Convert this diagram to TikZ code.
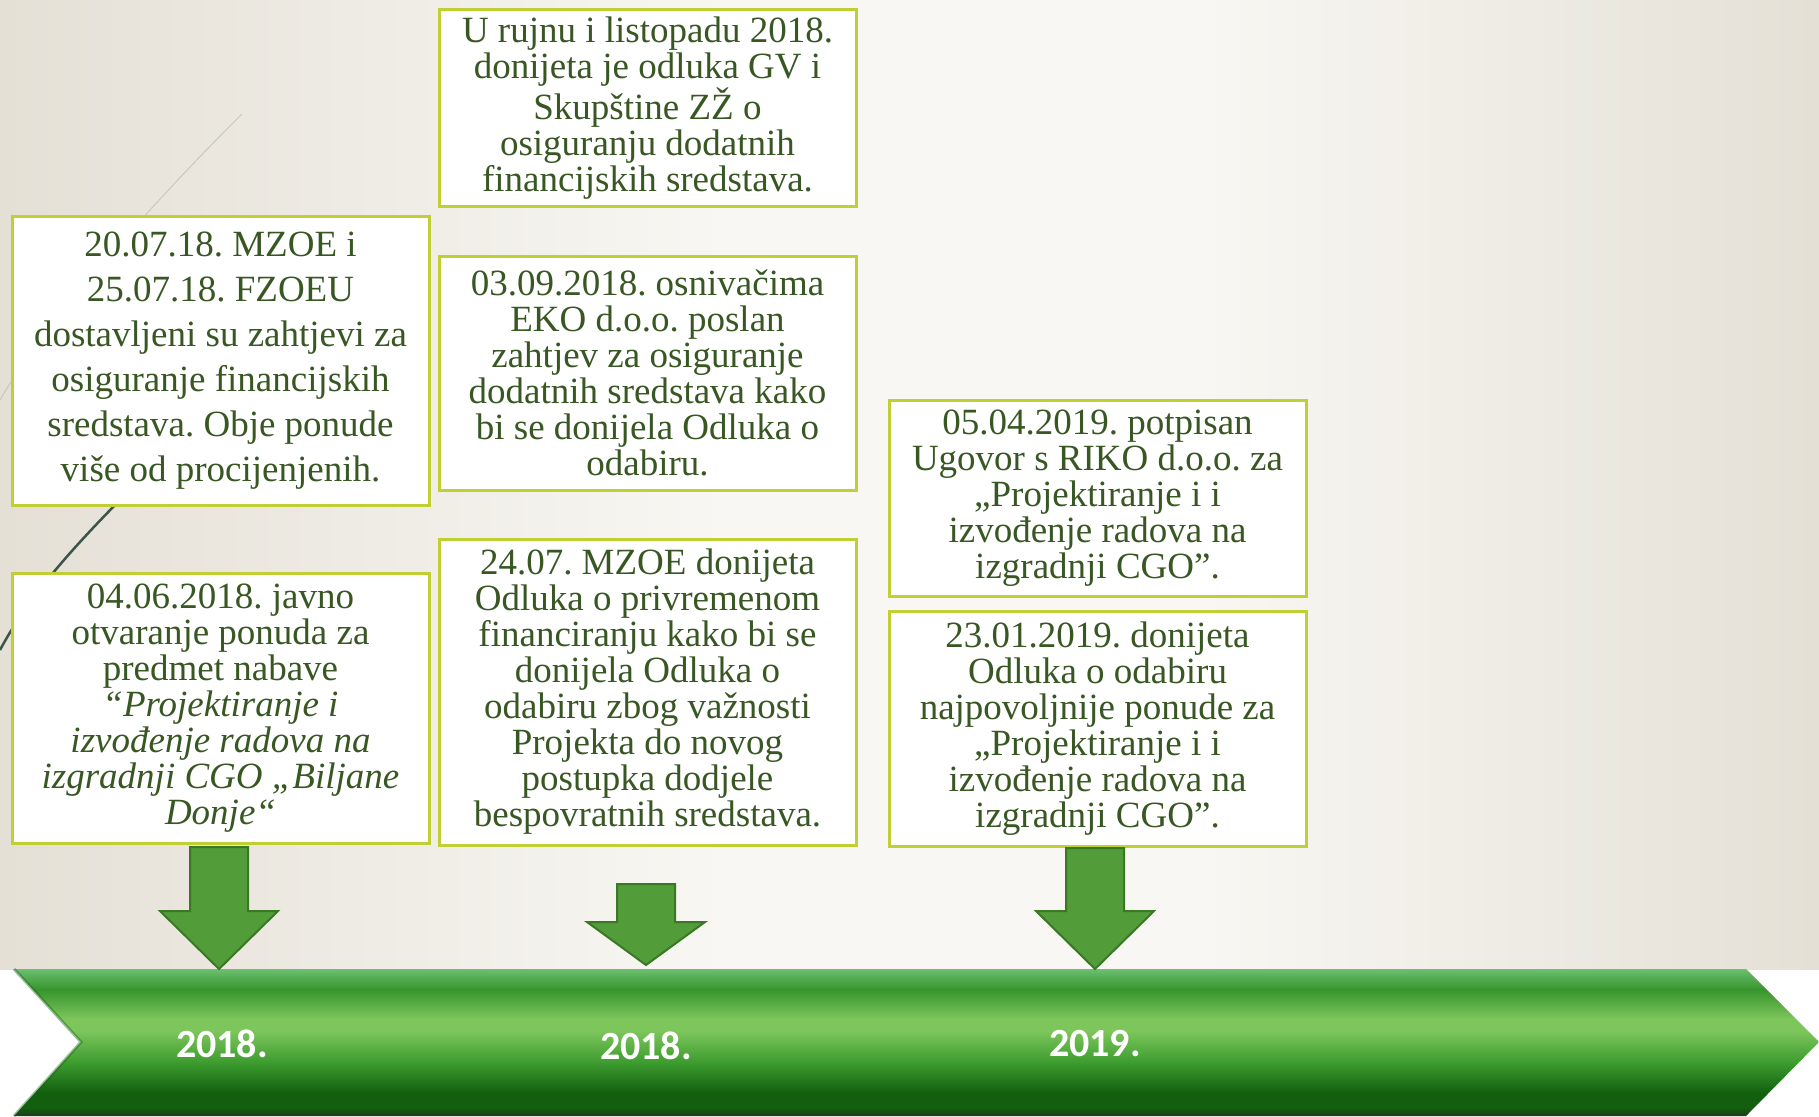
\documentclass[tikz,border=0pt]{standalone}
\usepackage{fontspec}
\setmainfont{Liberation Serif}
\newfontfamily\yearfont{Carlito}
\frenchspacing

\definecolor{boxline}{RGB}{192,208,52}
\definecolor{boxtext}{RGB}{56,87,35}
\definecolor{arrowfill}{RGB}{82,156,57}
\definecolor{arrowline}{RGB}{58,120,38}
\definecolor{paperside}{RGB}{229,224,214}
\definecolor{papermid}{RGB}{248,247,243}
\definecolor{wisplight}{RGB}{200,200,190}
\definecolor{wispdark}{RGB}{60,85,75}
\definecolor{bandrim}{RGB}{108,192,112}
\definecolor{bandtop}{RGB}{55,148,44}
\definecolor{bandlight}{RGB}{124,198,92}
\definecolor{bandmid}{RGB}{60,155,46}
\definecolor{banddark}{RGB}{18,96,15}
\definecolor{bandbottom}{RGB}{30,58,26}

\pgfdeclarehorizontalshading{paper}{100bp}{color(0bp)=(paperside); color(25bp)=(paperside);
  color(45bp)=(papermid); color(58bp)=(papermid); color(75bp)=(paperside); color(100bp)=(paperside)}
\pgfdeclareverticalshading{band}{100bp}{color(0bp)=(bandbottom); color(25bp)=(bandbottom);
  color(28bp)=(banddark); color(33bp)=(banddark); color(43bp)=(bandmid); color(54bp)=(bandlight);
  color(58bp)=(bandlight); color(68bp)=(bandtop); color(73bp)=(bandrim!70!bandtop);
  color(75bp)=(bandrim); color(100bp)=(bandrim)}

\begin{document}
\begin{tikzpicture}[x=1pt,y=-1pt,
  event/.style={draw=boxline,line width=3pt,fill=white,text=boxtext,align=center,
    anchor=north west,minimum width=417pt,inner sep=0pt,font=\fontsize{37}{36}\selectfont},
  blockarrow/.style={fill=arrowfill,draw=arrowline,line width=2pt},
  year/.style={text=white,font=\yearfont\bfseries\fontsize{40}{40}\selectfont}]

  % background
  \useasboundingbox (0,0) rectangle (1819,1116);
  \fill[white] (0,0) rectangle (1819,1116);
  \shade[shading=paper] (0,0) rectangle (1819,969);
  \draw[wisplight,line width=1pt] (242,114) .. controls (150,205) and (40,330) .. (0,400);
  \draw[wispdark,line width=2.5pt] (200,420) .. controls (110,510) and (40,575) .. (0,650);

  % events
  \node[event,minimum height=289pt,font=\fontsize{37}{45}\selectfont] (jul) at (10.5,214.5)
    {20.07.18. MZOE i\\25.07.18. FZOEU\\dostavljeni su zahtjevi za\\osiguranje financijskih\\
     sredstava. Obje ponude\\više od procijenjenih.};
  \node[event,minimum height=270pt] (jun) at (10.5,571.5)
    {04.06.2018. javno\\otvaranje ponuda za\\predmet nabave\\\textit{“Projektiranje i}\\
     \textit{izvođenje radova na}\\\textit{izgradnji CGO „Biljane}\\\textit{Donje“}};
  \node[event,minimum height=196pt] (rujan) at (437.5,8.5)
    {U rujnu i listopadu 2018.\\donijeta je odluka GV i\\Skupštine ZŽ o\\osiguranju dodatnih\\
     financijskih sredstava.};
  \node[event,minimum height=234pt] (osniv) at (437.5,254.5)
    {03.09.2018. osnivačima\\EKO d.o.o. poslan\\zahtjev za osiguranje\\dodatnih sredstava kako\\
     bi se donijela Odluka o\\odabiru.};
  \node[event,minimum height=306pt] (privr) at (437.5,537.5)
    {24.07. MZOE donijeta\\Odluka o privremenom\\financiranju kako bi se\\donijela Odluka o\\
     odabiru zbog važnosti\\Projekta do novog\\postupka dodjele\\bespovratnih sredstava.};
  \node[event,minimum height=196pt] (ugovor) at (887.5,398.5)
    {05.04.2019. potpisan\\Ugovor s RIKO d.o.o. za\\„Projektiranje i i\\izvođenje radova na\\
     izgradnji CGO”.};
  \node[event,minimum height=235pt] (odabir) at (887.5,609.5)
    {23.01.2019. donijeta\\Odluka o odabiru\\najpovoljnije ponude za\\„Projektiranje i i\\
     izvođenje radova na\\izgradnji CGO”.};

  % timeline
  \shade[shading=band] (14,969) -- (1746,969) -- (1819,1042) -- (1746,1116) -- (14,1116)
    -- (81,1042) -- cycle;
  \draw[banddark,line width=3pt,opacity=.4] (14,969) -- (81,1042) -- (14,1116);
  \foreach \ax/\atop/\ahead/\atip in {219/847/911/969, 646/884/922/965, 1095/848/911/969}
    \draw[blockarrow] (\ax-29,\atop) -- (\ax+29,\atop) -- (\ax+29,\ahead) -- (\ax+59,\ahead)
      -- (\ax,\atip) -- (\ax-59,\ahead) -- (\ax-29,\ahead) -- cycle;
  \node[year] (god1) at (222,1044) {2018.};
  \node[year] (god2) at (646,1046) {2018.};
  \node[year] (god3) at (1095,1044) {2019.};
\end{tikzpicture}
\end{document}
